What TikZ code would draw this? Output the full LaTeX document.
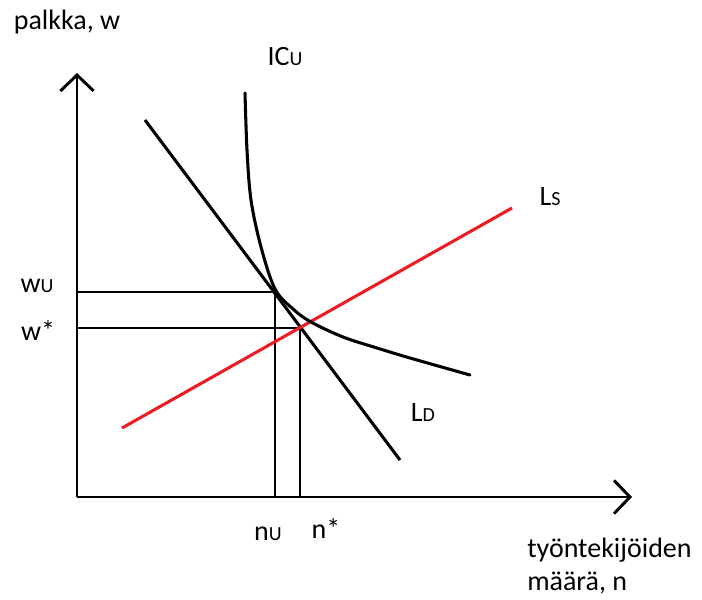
\documentclass[tikz,border=0pt]{standalone}
\usepackage{fontspec}
\setmainfont{Carlito}
\usetikzlibrary{arrows.meta}
\newcommand{\lowcap}[1]{{\fontsize{15}{15}\selectfont #1}}
\begin{document}
\begin{tikzpicture}[x=0.75pt,y=-0.75pt,font=\fontsize{21}{25}\selectfont,
  axis/.style={line width=2.2pt,-{Straight Barb[length=12pt,width=25pt,line width=2.2pt]}},
  guide/.style={line width=0.8pt},
  curve/.style={line width=2.3pt},
  supply/.style={line width=2.3pt,draw={rgb,255:red,235;green,28;blue,36}}]
\useasboundingbox (0,0) rectangle (702,599);
\coordinate (O) at (77,497);
\coordinate (ytop) at (77,73);
\coordinate (xend) at (632,497);
\coordinate (tan) at (275,292);
\coordinate (eq) at (300,328);
\draw[guide] (O|-tan) -- (tan) -- (tan|-O);
\draw[guide] (O|-eq) -- (eq) -- (eq|-O);
\draw[curve] (145,120) -- (400,460);
\draw[supply] (122,428) -- (512,208);
\draw[curve,line cap=round] plot[smooth,tension=0.55] coordinates {(245,93) (247,150) (251,200) (261,247) (275,289) (293,309) (311,322) (343,337) (377,348) (410,358) (470,375)};
\draw[axis] (O) -- (ytop);
\draw[axis] (O) -- (xend);
\node (ylab) at (67,22) {palkka, w};
\node (xlab) [align=left,anchor=west,inner sep=0pt] at (527,566) {työntekijöiden\\määrä, n};
\node (ic) at (285,57) {IC\lowcap{U}};
\node (ls) at (550,197) {L\lowcap{S}};
\node (ld) at (423,413) {L\lowcap{D}};
\node (wu) at (37,286) {w\lowcap{U}};
\node (wstar) at (38,331) {w*};
\node (nu) at (268,534) {n\lowcap{U}};
\node (nstar) at (326,529) {n*};
\end{tikzpicture}
\end{document}
